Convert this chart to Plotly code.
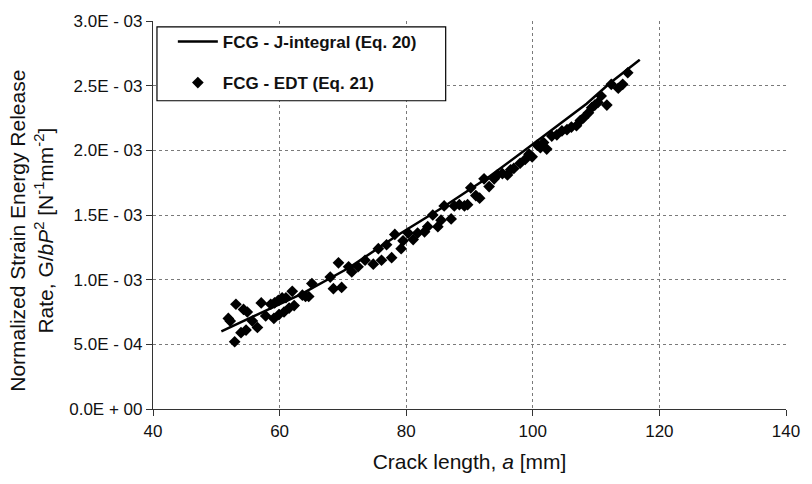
import plotly.graph_objects as go

# FCG - J-integral (Eq. 20): normalized strain energy release rate vs crack length
j_crack_mm = [50.8, 56.0, 63.5, 70.9, 78.5, 85.8, 93.2, 100.1, 108.5, 112.2, 116.9]
j_g_norm = [6.0e-4, 7.2e-4, 8.9e-4, 1.09e-3, 1.34e-3, 1.56e-3, 1.80e-3, 2.05e-3, 2.36e-3, 2.52e-3, 2.70e-3]

# FCG - EDT (Eq. 21): measured points (G/bP^2 in units of 1E-03)
edt_crack_mm = [
    51.9, 52.2, 52.9, 53.1, 53.9, 54.3, 54.7, 54.9, 55.7, 56.5,
    57.1, 57.8, 58.6, 59.1, 59.2, 59.8, 59.9, 60.4, 60.7, 61.0,
    61.5, 62.0, 62.3, 63.6, 64.1, 64.6, 65.1, 68.0, 68.5, 69.3,
    69.8, 70.9, 71.4, 72.4, 73.5, 74.8, 75.6, 76.1, 76.9, 77.7,
    78.2, 79.2, 79.5, 80.3, 81.1, 81.8, 82.9, 83.4, 84.2, 85.0,
    85.5, 86.0, 87.1, 87.6, 88.4, 89.2, 89.7, 90.2, 91.0, 91.6,
    92.3, 93.1, 93.9, 94.4, 95.2, 96.0, 96.5, 97.0, 98.0, 98.8,
    99.4, 99.9, 100.7, 101.2, 101.7, 102.2, 103.0, 103.8, 104.6, 105.4,
    106.1, 106.9, 107.5, 108.0, 108.8, 109.3, 109.8, 110.3, 110.8, 111.7,
    112.4, 113.5, 114.2, 115.0,
]
edt_g_e3 = [
    0.70, 0.68, 0.52, 0.81, 0.59, 0.77, 0.61, 0.75, 0.68, 0.63,
    0.82, 0.72, 0.81, 0.70, 0.82, 0.84, 0.73, 0.86, 0.75, 0.86,
    0.78, 0.91, 0.80, 0.88, 0.87, 0.87, 0.97, 1.02, 0.93, 1.13,
    0.94, 1.10, 1.06, 1.10, 1.15, 1.12, 1.24, 1.15, 1.27, 1.17,
    1.35, 1.24, 1.30, 1.36, 1.31, 1.36, 1.37, 1.41, 1.50, 1.41,
    1.46, 1.57, 1.47, 1.57, 1.58, 1.57, 1.58, 1.71, 1.65, 1.63,
    1.78, 1.72, 1.78, 1.81, 1.82, 1.81, 1.85, 1.86, 1.90, 1.93,
    1.97, 1.95, 2.04, 2.02, 2.06, 2.01, 2.11, 2.12, 2.15, 2.16,
    2.18, 2.19, 2.23, 2.25, 2.29, 2.33, 2.35, 2.37, 2.42, 2.35,
    2.51, 2.48, 2.51, 2.60,
]
edt_g_norm = [v * 1e-3 for v in edt_g_e3]

x_ticks = [40, 60, 80, 100, 120, 140]
y_ticks = [0.0, 5.0e-4, 1.0e-3, 1.5e-3, 2.0e-3, 2.5e-3, 3.0e-3]
y_tick_text = ["0.0E + 00", "5.0E - 04", "1.0E - 03", "1.5E - 03",
               "2.0E - 03", "2.5E - 03", "3.0E - 03"]

FONT = "Arial, Liberation Sans, sans-serif"
W, H = 812, 484
M_L, M_R, M_T, M_B = 153, 21, 15, 75

fig = go.Figure()
fig.add_trace(go.Scatter(
    x=j_crack_mm, y=j_g_norm, mode="lines",
    line=dict(color="black", width=2.5),
    name="<b>FCG - J-integral (Eq. 20)</b>", legendgroup="j",
))
fig.add_trace(go.Scatter(
    x=edt_crack_mm, y=edt_g_norm, mode="markers",
    marker=dict(symbol="diamond", size=9, color="black", line=dict(width=0)),
    name="<b>FCG - EDT (Eq. 21)</b>", legendgroup="edt",
))

grid = dict(showgrid=True, gridcolor="#7a7a7a", gridwidth=1, griddash="dot")

fig.update_xaxes(
    range=[40, 140], tickvals=x_ticks, ticks="outside", ticklen=6,
    tickcolor="#333", showline=True, linecolor="#333", linewidth=1.2,
    tickfont=dict(family=FONT, size=17, color="#111"),
    title=dict(text="Crack length, <i>a</i> [mm]",
               font=dict(family=FONT, size=21, color="#111"), standoff=14),
    zeroline=False, **grid,
)
fig.update_yaxes(
    range=[0, 3.0e-3], tickvals=y_ticks, ticktext=y_tick_text,
    ticks="outside", ticklen=6, tickcolor="#333",
    showline=True, linecolor="#333", linewidth=1.2,
    tickfont=dict(family=FONT, size=17, color="#111"),
    zeroline=False, **grid,
)

# Two-line rotated y-axis title
fig.add_annotation(
    text="Normalized Strain Energy Release<br>Rate, G/<i>bP</i><sup>2</sup> "
         "[N<sup>-1</sup>mm<sup>-2</sup>]",
    xref="paper", yref="paper", x=0, y=(H - M_B - 228) / (H - M_T - M_B),
    xanchor="center", yanchor="middle", xshift=31 - M_L,
    textangle=-90, showarrow=False,
    font=dict(family=FONT, size=21, color="#111"),
)

# Legend frame
fig.add_shape(
    type="rect", xref="paper", yref="paper",
    x0=(157 - M_L) / (W - M_L - M_R), x1=(448 - M_L) / (W - M_L - M_R),
    y0=(H - M_B - 96) / (H - M_T - M_B), y1=(H - M_B - 21) / (H - M_T - M_B),
    line=dict(color="black", width=1.2), fillcolor="white", layer="above",
)

fig.update_layout(
    width=W, height=H,
    margin=dict(l=M_L, r=M_R, t=M_T, b=M_B),
    plot_bgcolor="white", paper_bgcolor="white",
    showlegend=True,
    legend=dict(
        x=(173 - M_L) / (W - M_L - M_R), y=(H - M_B - 18) / (H - M_T - M_B),
        xanchor="left", yanchor="top",
        bgcolor="rgba(0,0,0,0)", borderwidth=0,
        font=dict(family=FONT, size=17, color="#111"),
        tracegroupgap=16, itemwidth=40, traceorder="grouped",
    ),
)

fig.write_html("out.html")
